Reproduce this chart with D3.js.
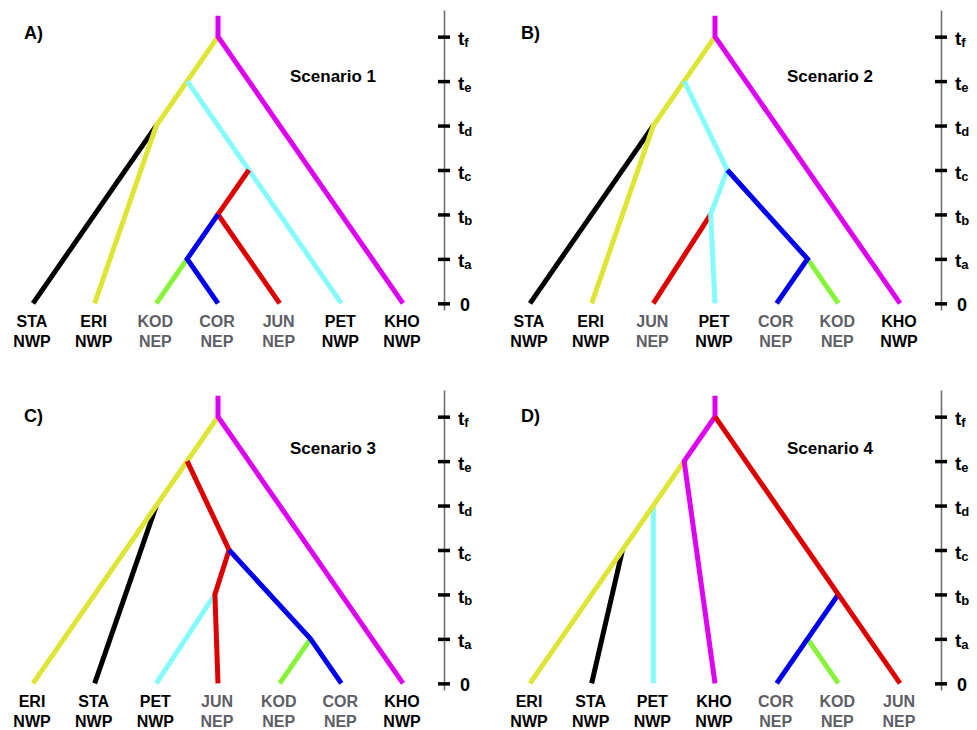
<!doctype html>
<html>
  <head>
    <meta charset="utf-8">
    <title>Scenarios</title>
    <script src="https://cdnjs.cloudflare.com/ajax/libs/d3/7.8.5/d3.min.js"></script>
    <style>
      body { margin: 0; background: #fff; }
      text { font-family: "Liberation Sans", Arial, Helvetica, sans-serif; font-weight: bold; }
    </style>
  </head>
  <body>
    <div id="chart"></div>
    <script>

      // time axis: 0, ta ... tf
      const timeTicks = [0, 1, 2, 3, 4, 5, 6];
      const timeLabels = [["0", ""], ["t", "a"], ["t", "b"], ["t", "c"], ["t", "d"], ["t", "e"], ["t", "f"]];

      // population -> region
      const regions = { STA: "NWP", ERI: "NWP", PET: "NWP", KHO: "NWP", KOD: "NEP", COR: "NEP", JUN: "NEP" };

      // lineage colours
      const pops = ["STA", "ERI", "KOD", "COR", "JUN", "PET", "KHO"];
      const popColors = ["#000000", "#dfe535", "#86f53a", "#0000ee", "#dd0000", "#86fbfb", "#dd00f2"];

      const panelLetters = ["A)", "B)", "C)", "D)"];
      const scenarioNames = ["Scenario 1", "Scenario 2", "Scenario 3", "Scenario 4"];

      // tip order for each scenario (left to right)
      const tips1 = ["STA", "ERI", "KOD", "COR", "JUN", "PET", "KHO"];
      const tips2 = ["STA", "ERI", "JUN", "PET", "COR", "KOD", "KHO"];
      const tips3 = ["ERI", "STA", "PET", "JUN", "KOD", "COR", "KHO"];
      const tips4 = ["ERI", "STA", "PET", "KHO", "COR", "KOD", "JUN"];

      // branches: lineage + path of [tip position, time]
      const branches1 = [
        { pop: "STA", path: [[2, 4], [0, 0]] },
        { pop: "ERI", path: [[3, 6], [2, 4], [1, 0]] },
        { pop: "PET", path: [[2.5, 5], [5, 0]] },
        { pop: "KHO", path: [[3, 6.47], [3, 6], [6, 0]] },
        { pop: "JUN", path: [[3.5, 3], [3, 2], [4, 0]] },
        { pop: "KOD", path: [[2.5, 1], [2, 0]] },
        { pop: "COR", path: [[3, 2], [2.5, 1], [3, 0]] }
      ];
      const branches2 = [
        { pop: "STA", path: [[2, 4], [0, 0]] },
        { pop: "ERI", path: [[3, 6], [2, 4], [1, 0]] },
        { pop: "KHO", path: [[3, 6.47], [3, 6], [6, 0]] },
        { pop: "JUN", path: [[2.93, 2], [2, 0]] },
        { pop: "PET", path: [[2.5, 5], [3.2, 3], [2.93, 2], [3, 0]] },
        { pop: "KOD", path: [[4.5, 1], [5, 0]] },
        { pop: "COR", path: [[3.2, 3], [4.5, 1], [4, 0]] }
      ];
      const branches3 = [
        { pop: "STA", path: [[2, 4], [1, 0]] },
        { pop: "ERI", path: [[3, 6], [0, 0]] },
        { pop: "KHO", path: [[3, 6.47], [3, 6], [6, 0]] },
        { pop: "PET", path: [[2.95, 2], [2, 0]] },
        { pop: "KOD", path: [[4.5, 1], [4, 0]] },
        { pop: "JUN", path: [[2.5, 5], [3.18, 3], [2.95, 2], [3, 0]] },
        { pop: "COR", path: [[3.18, 3], [4.5, 1], [5, 0]] }
      ];
      const branches4 = [
        { pop: "STA", path: [[1.5, 3], [1, 0]] },
        { pop: "PET", path: [[2, 4], [2, 0]] },
        { pop: "ERI", path: [[2.5, 5], [0, 0]] },
        { pop: "KHO", path: [[3, 6.47], [3, 6], [2.5, 5], [3, 0]] },
        { pop: "KOD", path: [[4.5, 1], [5, 0]] },
        { pop: "COR", path: [[5, 2], [4, 0]] },
        { pop: "JUN", path: [[3, 6], [6, 0]] }
      ];

      const scenarios = [
        { tips: tips1, branches: branches1 },
        { tips: tips2, branches: branches2 },
        { tips: tips3, branches: branches3 },
        { tips: tips4, branches: branches4 }
      ];

      const width = 977, height = 730;
      const svg = d3.select("#chart").append("svg")
        .attr("width", width)
        .attr("height", height);

      const color = d3.scaleOrdinal().domain(pops).range(popColors);

      // panel placement
      const panelX = [0, 497, 0, 497];
      const panelY = [0, 0, 380, 380];

      scenarios.forEach((sc, k) => {
        const g = svg.append("g")
          .attr("transform", `translate(${panelX[k]},${panelY[k]})`);

        const x = d3.scaleLinear().domain([0, 6]).range([33, 403]);
        const y = d3.scaleLinear().domain([-0.15, 6.6]).range([310, 10]);

        const line = d3.line().x(d => x(d[0])).y(d => y(d[1]));

        g.selectAll("path.branch")
          .data(sc.branches)
          .join("path")
          .attr("class", "branch")
          .attr("d", d => line(d.path))
          .attr("fill", "none")
          .attr("stroke", d => color(d.pop))
          .attr("stroke-width", 5)
          .attr("stroke-linejoin", "miter")
          .attr("stroke-linecap", "butt");

        // tip labels
        const lab = g.selectAll("g.tip")
          .data(sc.tips)
          .join("g")
          .attr("class", "tip")
          .attr("transform", (d, i) => `translate(${x(i) - 1},${y(0)})`)
          .attr("fill", d => regions[d] == "NEP" ? "#5e5e66" : "#000");
        lab.append("text")
          .attr("y", 24)
          .attr("text-anchor", "middle")
          .attr("font-size", 16)
          .text(d => d);
        lab.append("text")
          .attr("y", 44)
          .attr("text-anchor", "middle")
          .attr("font-size", 16)
          .text(d => regions[d]);

        // time axis
        const axis = d3.axisRight(y)
          .tickValues(timeTicks)
          .tickSizeInner(6)
          .tickSizeOuter(0)
          .tickFormat("");
        const ax = g.append("g")
          .attr("transform", "translate(444,0)")
          .call(axis);
        ax.select(".domain")
          .attr("stroke", "#707070")
          .attr("stroke-width", 1.6);
        ax.selectAll(".tick line")
          .attr("x1", -6)
          .attr("stroke", "#000")
          .attr("stroke-width", 3.5);
        const tl = ax.selectAll(".tick").append("text")
          .attr("x", (d, i) => i == 0 ? 16 : 14)
          .attr("y", (d, i) => i == 0 ? 7 : 8)
          .attr("fill", "#000")
          .attr("font-size", (d, i) => i == 0 ? 18 : 19)
          .attr("text-anchor", "start");
        tl.append("tspan").text((d, i) => timeLabels[i][0]);
        tl.append("tspan")
          .attr("dy", 2)
          .attr("font-size", 13)
          .text((d, i) => timeLabels[i][1]);

        g.append("text")
          .attr("x", 24)
          .attr("y", k < 2 ? 39 : 42)
          .attr("font-size", 18)
          .text(panelLetters[k]);

        g.append("text")
          .attr("x", 290)
          .attr("y", k < 2 ? 82 : 74)
          .attr("font-size", 17)
          .text(scenarioNames[k]);
      });

    </script>
  </body>
</html>
